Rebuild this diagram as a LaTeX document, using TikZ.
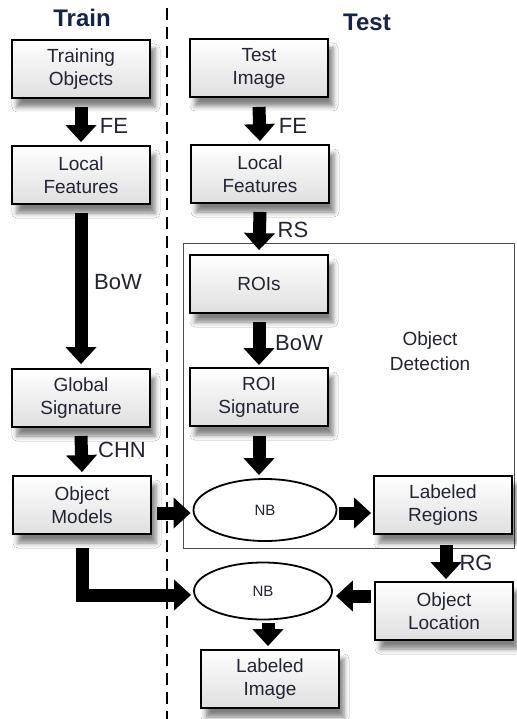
\documentclass[tikz,border=0pt]{standalone}
\usepackage{fontspec}
\setmainfont{Liberation Sans}
\usetikzlibrary{arrows.meta,shapes.geometric,shadows.blur}
\definecolor{txt}{RGB}{34,36,50}
\definecolor{navy}{RGB}{22,36,70}
\begin{document}
\begin{tikzpicture}[x=1pt,y=-1pt,
  box/.style={rectangle, draw=black, line width=1.8pt, top color=white, bottom color=gray!25,
    minimum width=138pt, minimum height=58pt, align=center, text=txt, inner sep=0pt,
    font=\fontsize{19}{23}\selectfont,
    blur shadow={shadow xshift=5pt, shadow yshift=-9pt, shadow blur radius=5pt, shadow opacity=50}},
  nbell/.style={ellipse, draw=black, line width=1.8pt, fill=white, minimum width=143pt,
    minimum height=62pt, text=txt, font=\fontsize{15}{17}\selectfont, inner sep=0pt},
  barrow/.style={line width=13pt, line join=miter, -{Triangle[width=30pt,length=17pt]}},
  lbl/.style={text=txt, font=\fontsize{22}{26}\selectfont, inner sep=0pt},
  ttl/.style={text=navy, font=\fontsize{24}{28}\selectfont\bfseries, inner sep=0pt}]
\useasboundingbox (0,0) rectangle (516,719);
\fill[white] (0,0) rectangle (516,719);
% divider
\coordinate (dtop) at (167,8);
\coordinate (dbot) at (167,719);
\draw[line width=2.6pt, dash pattern=on 12pt off 7pt] (dtop) -- (dbot);
% titles
\node[ttl] (train) at (82,18) {Train};
\node[ttl] (test) at (367,22) {Test};
% object detection frame
\node[draw=gray!60!black, line width=0.9pt, minimum width=331pt, minimum height=305pt, inner sep=0pt] (odframe) at (348.5,395.5) {};
\node[text=txt, align=center, font=\fontsize{19}{25}\selectfont, inner sep=0pt] (odlabel) at (430,351) {Object\\Detection};
% left column
\node[box] (trobj) at (81,69) {Training\\Objects};
\node[box] (lfl) at (81,175) {Local\\Features};
\node[box] (gsig) at (81,398) {Global\\Signature};
\node[box] (omod) at (82,505) {Object\\Models};
% right column
\node[box] (timg) at (259,68) {Test\\Image};
\node[box] (lfr) at (260,174) {Local\\Features};
\node[box] (rois) at (259,284) {ROIs};
\node[box] (rsig) at (259,397) {ROI\\Signature};
\node[nbell] (nba) at (265,510) {NB};
\node[box] (lreg) at (443,505) {Labeled\\Regions};
\node[box] (oloc) at (444,611) {Object\\Location};
\node[nbell, minimum width=138pt, minimum height=57pt] (nbb) at (263,591) {NB};
\node[box] (limg) at (270,679) {Labeled\\Image};
% arrows
\draw[barrow] ([yshift=-8pt]trobj.south) -- ([yshift=3pt]lfl.north);
\draw[barrow] ([yshift=-8pt]lfl.south) -- ([yshift=4pt]gsig.north);
\draw[barrow] ([yshift=-8pt]gsig.south) -- ([yshift=3pt]omod.north);
\draw[barrow] ([yshift=-9pt]timg.south) -- ([yshift=3pt]lfr.north);
\draw[barrow] ([yshift=-8pt]lfr.south) -- ([yshift=4pt]rois.north);
\draw[barrow] ([yshift=-8pt]rois.south) -- ([yshift=2pt]rois.south |- rsig.north);
\draw[barrow] ([yshift=-9pt]rsig.south) -- ([yshift=3pt]rsig.south |- nba.north);
\draw[barrow] ([xshift=5pt,yshift=-3pt]omod.east |- nba.west) -- ([xshift=-2pt,yshift=-3pt]nba.west);
\draw[barrow] ([xshift=2pt,yshift=-3pt]nba.east) -- ([xshift=-2pt,yshift=-3pt]lreg.west |- nba.east);
\draw[barrow] ([xshift=3pt,yshift=-10pt]lreg.south) -- ([xshift=3pt,yshift=2pt]lreg.south |- oloc.north);
\draw[barrow] ([yshift=-13pt]omod.south) |- ([xshift=-2pt,yshift=-4pt]nbb.west);
\draw[barrow] ([xshift=-3pt,yshift=-5pt]oloc.west |- nbb.east) -- ([xshift=3pt,yshift=-5pt]nbb.east);
\draw[barrow] ([xshift=5pt,yshift=-3pt]nbb.south) -- ([xshift=5pt,yshift=3pt]nbb.south |- limg.north);
% arrow labels
\node[lbl] (lfe) at (114,126) {FE};
\node[lbl] (lbow) at (118,282) {BoW};
\node[lbl] (lchn) at (122,450) {CHN};
\node[lbl] (rfe) at (293,126) {FE};
\node[lbl] (rrs) at (293,230) {RS};
\node[lbl] (rbow) at (299,343) {BoW};
\node[lbl] (rrg) at (476,563) {RG};
\end{tikzpicture}
\end{document}
